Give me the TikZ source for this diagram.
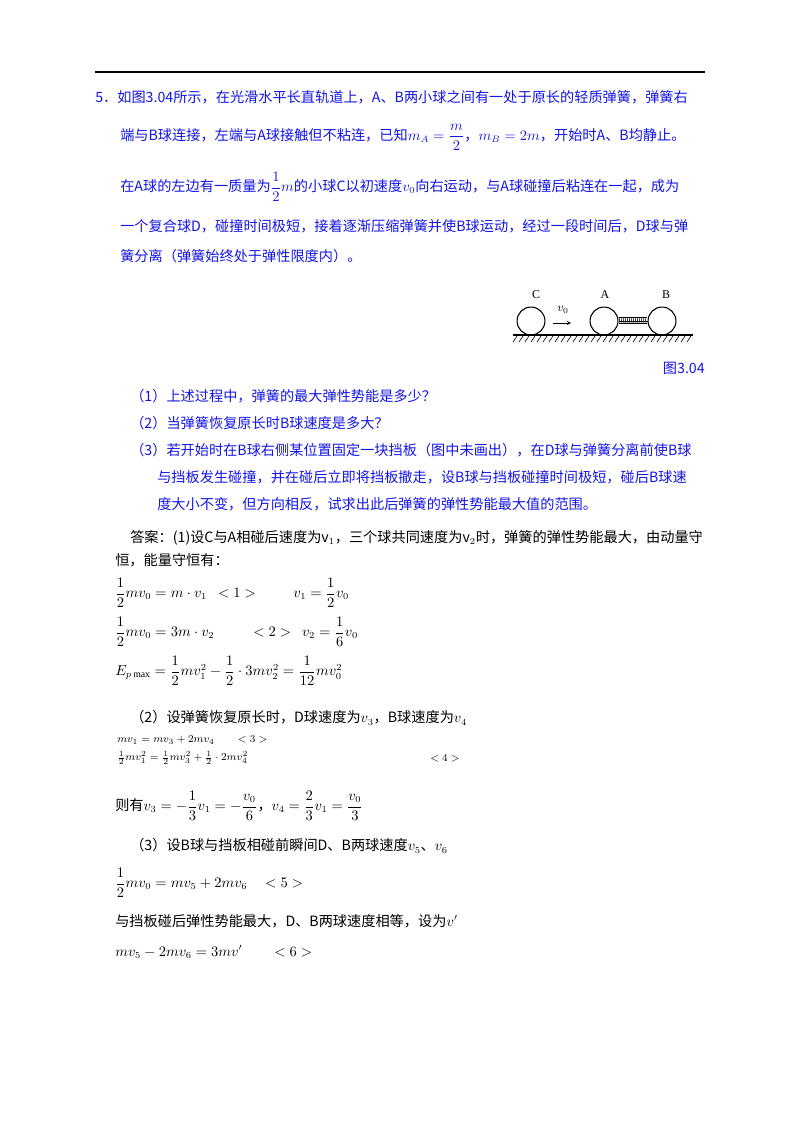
\documentclass[tikz,border=0pt]{standalone}
\usepackage{amsmath}
\usepackage{fontspec}
\setmainfont{Liberation Serif}
\newfontfamily\cjk{Noto Sans CJK SC}
\definecolor{qblue}{RGB}{20,20,230}
\begin{document}
\begin{tikzpicture}[x=0.0265cm,y=-0.0265cm,
  t/.style={anchor=west,inner sep=0pt,font=\fontsize{10.7}{12}\selectfont\cjk},
  q/.style={t,text=qblue},
  eq/.style={anchor=west,inner sep=0pt,font=\fontsize{10.5}{12}\selectfont},
  ball/.style={draw,line width=0.8pt,circle,inner sep=0pt,minimum size=0.74cm}]
\useasboundingbox (0,0) rectangle (800,1132);
\draw[line width=0.8pt] (95,72) -- (705,72);
\node[q] (l1) at (95,97) {5．如图3.04所示，在光滑水平长直轨道上，A、B两小球之间有一处于原长的轻质弹簧，弹簧右};
\node[q] (l2) at (120,137) {端与B球连接，左端与A球接触但不粘连，已知$m_A=\dfrac{m}{2}$，$m_B=2m$，开始时A、B均静止。};
\node[q] (l3) at (120,187) {在A球的左边有一质量为$\dfrac12 m$的小球C以初速度$v_0$向右运动，与A球碰撞后粘连在一起，成为};
\node[q] (l4) at (120,226) {一个复合球D，碰撞时间极短，接着逐渐压缩弹簧并使B球运动，经过一段时间后，D球与弹};
\node[q] (l5) at (120,256) {簧分离（弹簧始终处于弹性限度内）。};
% figure
\node[ball] (C) at (531,321) {};
\node[ball] (A) at (604,321) {};
\node[ball] (B) at (662,321) {};
\node[eq,anchor=center,font=\small] (lc) at (536,295) {C};
\node[eq,anchor=center,font=\small] (la) at (605,295) {A};
\node[eq,anchor=center,font=\small] (lb) at (666,295) {B};
\node[eq,anchor=center,font=\small] (lv) at (563,310) {$v_0$};
\coordinate (a1) at (553,323); \coordinate (a2) at (571,323);
\draw[-stealth] (a1) -- (a2);
\draw[line width=0.5pt] (A.east) -- (B.west);
\foreach \i in {0,...,13} \draw[line width=0.4pt] (619+2*\i,317) -- (620+2*\i,323);
\draw[line width=0.4pt] (619,317) -- (647,317) (619,323) -- (647,323);
\draw[line width=0.8pt] (513,335) -- (693,335);
\foreach \i in {0,...,29} \draw[line width=0.5pt] (517+6*\i,336) -- (513+6*\i,342);
\node[q,anchor=east] (fig) at (705,368) {图3.04};
% questions
\node[q] (q1) at (130,396) {（1）上述过程中，弹簧的最大弹性势能是多少？};
\node[q] (q2) at (130,423) {（2）当弹簧恢复原长时B球速度是多大？};
\node[q] (q3) at (130,450) {（3）若开始时在B球右侧某位置固定一块挡板（图中未画出），在D球与弹簧分离前使B球};
\node[q] (q3b) at (157,477) {与挡板发生碰撞，并在碰后立即将挡板撤走，设B球与挡板碰撞时间极短，碰后B球速};
\node[q] (q3c) at (157,504) {度大小不变，但方向相反，试求出此后弹簧的弹性势能最大值的范围。};
% answers
\node[t] (an) at (130,538) {答案：(1)设C与A相碰后速度为v$_1$，三个球共同速度为v$_2$时，弹簧的弹性势能最大，由动量守};
\node[t] (an2) at (115,560) {恒，能量守恒有：};
\node[eq] (e1) at (115,593) {$\dfrac12 mv_0=m\cdot v_1\ \ <1>$};
\node[eq] (e1b) at (293,593) {$v_1=\dfrac12 v_0$};
\node[eq] (e2) at (115,632) {$\dfrac12 mv_0=3m\cdot v_2$};
\node[eq] (e2b) at (253,632) {$<2>\ \ v_2=\dfrac16 v_0$};
\node[eq] (e3) at (115,671) {$E_{p\max}=\dfrac12 mv_1^2-\dfrac12\cdot 3mv_2^2=\dfrac1{12}mv_0^2$};
\node[t] (a2t) at (130,718) {（2）设弹簧恢复原长时，D球速度为$v_3$，B球速度为$v_4$};
\node[eq,font=\footnotesize] (e4) at (117,740) {$mv_1=mv_3+2mv_4$\hspace{2.2em}$<3>$};
\node[eq,font=\footnotesize] (e5) at (117,758) {$\frac12 mv_1^2=\frac12 mv_3^2+\frac12\cdot 2mv_4^2$};
\node[eq,font=\footnotesize] (e5b) at (430,758) {$<4>$};
\node[t] (e6) at (115,806) {则有$v_3=-\dfrac13 v_1=-\dfrac{v_0}{6}$，$v_4=\dfrac23 v_1=\dfrac{v_0}{3}$};
\node[t] (a3t) at (130,846) {（3）设B球与挡板相碰前瞬间D、B两球速度$v_5$、$v_6$};
\node[eq] (e7) at (115,883) {$\dfrac12 mv_0=mv_5+2mv_6\quad <5>$};
\node[t] (a3u) at (115,921) {与挡板碰后弹性势能最大，D、B两球速度相等，设为$v'$};
\node[eq] (e8) at (115,952) {$mv_5-2mv_6=3mv'\qquad <6>$};
\end{tikzpicture}
\end{document}
